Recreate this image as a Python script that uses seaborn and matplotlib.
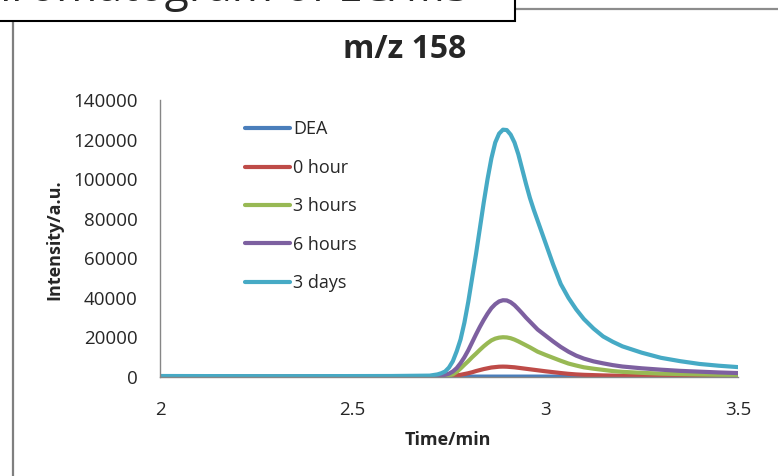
import numpy as np
import pandas as pd
import matplotlib
matplotlib.use('agg')
import matplotlib.pyplot as plt
from matplotlib.patches import Rectangle
from matplotlib.lines import Line2D
import seaborn as sns

# retention time grid (min), shared by all traces
tiempo = [2.0, 2.3, 2.6, 2.7, 2.72,
          2.73, 2.74, 2.75, 2.76, 2.77, 2.78, 2.79, 2.80, 2.81, 2.82, 2.83, 2.84, 2.85, 2.86,
          2.87, 2.88, 2.89, 2.90, 2.91, 2.92, 2.93, 2.94, 2.95, 2.96, 2.97, 2.98, 2.99, 3.00,
          3.02, 3.04, 3.06, 3.08, 3.10, 3.125, 3.15, 3.175, 3.20,
          3.25, 3.30, 3.35, 3.40, 3.45, 3.50]

dea = [200, 150, 200, 200, 200,
       200, 200, 200, 200, 200, 200, 200, 200, 200, 200, 200, 200, 200, 200,
       200, 200, 200, 200, 200, 200, 200, 200, 200, 200, 200, 200, 200, 200,
       200, 200, 200, 200, 200, 200, 200, 200, 200,
       200, 200, 200, 200, 200, 200]
hora_0 = [200, 100, 200, 250, 280,
          300, 350, 420, 600, 800, 1100, 1500, 1900, 2400, 3000, 3500, 4000, 4400, 4800,
          5000, 5200, 5250, 5200, 5050, 4900, 4650, 4400, 4150, 3900, 3650, 3400, 3150, 2900,
          2450, 2000, 1600, 1300, 1100, 950, 800, 700, 600,
          450, 400, 380, 350, 320, 300]
horas_3 = [300, 200, 300, 350, 400,
           450, 550, 800, 1300, 2600, 4300, 6200, 8000, 10000, 11800, 13700, 15500, 17100, 18500,
           19400, 19900, 20100, 20000, 19600, 18900, 18000, 17000, 16000, 15000, 13900, 12800, 12000, 11200,
           9700, 8200, 6800, 5800, 4900, 4200, 3600, 3000, 2600,
           2100, 1700, 1500, 1300, 1100, 1000]
horas_6 = [300, 200, 300, 400, 600,
           800, 1100, 1700, 2800, 4500, 7000, 10000, 13500, 17500, 21500, 25300, 28800, 32000, 34800,
           36800, 38200, 38800, 38700, 37800, 36300, 34300, 32200, 30000, 28000, 26000, 24000, 22500, 21000,
           18000, 15200, 12800, 10800, 9300, 7900, 6900, 6000, 5300,
           4400, 3700, 3100, 2700, 2300, 2000]
dias_3 = [500, 400, 500, 700, 1300,
          1900, 2800, 4800, 8000, 13000, 19000, 27500, 38000, 50000, 62000, 75000, 88000, 100000, 110500,
          118500, 123000, 125000, 124800, 122500, 118500, 112500, 105000, 97500, 90500, 84500, 79000, 73500, 68000,
          57000, 47000, 40000, 34200, 29300, 24500, 20500, 17800, 15500,
          12300, 9700, 8000, 6600, 5700, 5000]

etiquetas = ['DEA', '0 hour', '3 hours', '6 hours', '3 days']
colores = ['#4a7ebb', '#be4b48', '#98b954', '#7d60a0', '#46aac5']

series = [dea, hora_0, horas_3, horas_6, dias_3]
df = pd.concat([pd.DataFrame({'Time': tiempo, 'Intensity': s, 'muestra': e})
                for s, e in zip(series, etiquetas)], ignore_index=True)

sns.set_style('white')
plt.rcParams['font.family'] = ['Open Sans', 'DejaVu Sans']

fig = plt.figure(figsize=(7.78, 4.76), dpi=100)
ax = fig.add_axes([160/778, 1 - 377/476, 578/778, 277/476])

sns.lineplot(data=df, x='Time', y='Intensity', hue='muestra', hue_order=etiquetas,
             palette=colores, linewidth=3, estimator=None, sort=True, ax=ax)

ax.set_xlim(2, 3.5)
ax.set_ylim(0, 140000)
ax.set_xticks([2, 2.5, 3, 3.5])
ax.set_xticklabels(['2', '2.5', '3', '3.5'])
ax.set_yticks(range(0, 140001, 20000))
ax.tick_params(axis='y', length=0, pad=16, labelsize=13.5, labelcolor='#262626')
ax.tick_params(axis='x', length=0, pad=17, labelsize=13.5, labelcolor='#262626')
for lado in ['top', 'right']:
    ax.spines[lado].set_visible(False)
for lado in ['left', 'bottom']:
    ax.spines[lado].set_color('#868686')
    ax.spines[lado].set_linewidth(1.0)

ax.set_xlabel('Time/min', fontsize=13, fontweight='bold', va='center')
ax.xaxis.set_label_coords(0.498, -0.227)
ax.set_ylabel('Intensity/a.u.', fontsize=13, fontweight='bold', va='center')
ax.yaxis.set_label_coords(-0.182, 0.495)

sns.move_legend(ax, 'upper left', bbox_to_anchor=(0.147, 0.926), frameon=False,
                title=None, fontsize=13, borderpad=0, borderaxespad=0,
                handlelength=2.5, handletextpad=0.15, labelspacing=1.13)

fig.text(405/778, 1 - 50/476, 'm/z 158', ha='center', va='center',
         fontsize=23, fontweight='bold')

# recuadro recortado del titulo de la diapositiva
fig.patches.append(Rectangle((-0.01, 1 - 20.7/476), 0.01 + 515/778, 0.05,
                             transform=fig.transFigure, facecolor='white',
                             edgecolor='black', linewidth=1.5, zorder=5))
fig.text(470/778, 1 - 1/476, 'Chromatogram of LC/MS', ha='right', va='baseline',
         fontsize=32, zorder=6)
fig.lines.append(Line2D([515/778, 1], [1 - 9/476, 1 - 9/476], transform=fig.transFigure,
                        color='#8c8c8c', linewidth=1.6))
fig.lines.append(Line2D([13/778, 13/778], [0, 1 - 21/476], transform=fig.transFigure,
                        color='#7f7f7f', linewidth=1.6))

fig.savefig('out.png', dpi=100)
plt.close(fig)
